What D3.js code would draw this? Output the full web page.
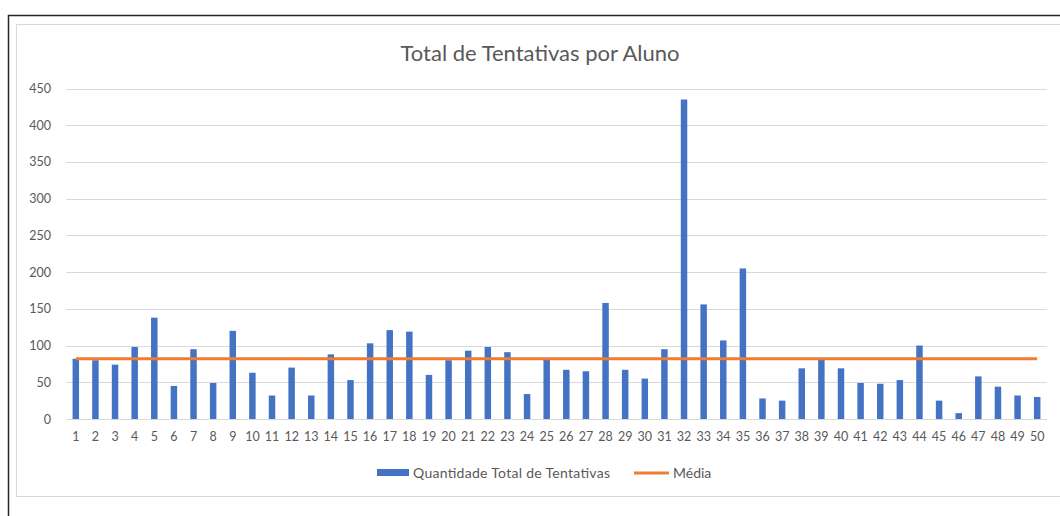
<!DOCTYPE html>
<html>
<head>
<meta charset="utf-8">
<script src="https://cdn.jsdelivr.net/npm/d3@7"></script>
<style>
  body { margin: 0; background: #fff; }
  text { font-family: Lato, "Open Sans", sans-serif; fill: #595959; }
</style>
</head>
<body>
<div id="chart"></div>
<script>
// dados
var alunos = d3.range(1, 51).map(String); // 1..50 rótulos do eixo x
var tentativas = [82, 80, 74, 98, 138, 45, 95, 49, 120, 63,
                  32, 70, 32, 88, 53, 103, 121, 119, 60, 80,
                  93, 98, 91, 34, 81, 67, 65, 158, 67, 55,
                  95, 435, 156, 107, 205, 28, 25, 69, 81, 69,
                  49, 48, 53, 100, 25, 8, 58, 44, 32, 30];
var media = 82;
var yTicks = [0, 50, 100, 150, 200, 250, 300, 350, 400, 450];
var titulo = "Total de Tentativas por Aluno";
var legendas = ["Quantidade Total de Tentativas", "Média"];

const width = 1060;
const height = 516;
const plot_left = 66;
const plot_right = 1047;
const plot_top = 88.5;
const plot_bottom = 419;

var svg = d3.select("#chart")
  .append("svg")
  .attr("width", width)
  .attr("height", height);

// moldura externa (preta) e area do grafico (cinza claro)
svg.append("rect")
  .attr("x", 8.5).attr("y", 15.5)
  .attr("width", 1200).attr("height", 600)
  .style("fill", "none")
  .style("stroke", "#262626")
  .style("stroke-width", 1.5);

svg.append("rect")
  .attr("x", 16.5).attr("y", 24.5)
  .attr("width", 1200).attr("height", 472)
  .style("fill", "#fff")
  .style("stroke", "#d9d9d9")
  .style("stroke-width", 1);

var x = d3.scaleBand()
  .domain(alunos)
  .range([plot_left, plot_right])
  .paddingInner(0.67)
  .paddingOuter(0.335);

var y = d3.scaleLinear()
  .domain([0, 450])
  .range([plot_bottom, plot_top]);

// linhas de grade
svg.append("g")
  .selectAll("line")
  .data(yTicks)
  .join("line")
  .attr("x1", plot_left)
  .attr("x2", plot_right)
  .attr("y1", d => Math.round(y(d)) + 0.5)
  .attr("y2", d => Math.round(y(d)) + 0.5)
  .style("stroke", "#d9d9d9")
  .style("stroke-width", 1);

// eixo y
var yAxis = svg.append("g")
  .attr("transform", "translate(" + (plot_left - 15) + ",0)")
  .call(d3.axisLeft(y).tickValues(yTicks).tickSize(0).tickPadding(0));
yAxis.select(".domain").remove();
yAxis.selectAll("text")
  .style("font-size", "12.5px")
  .style("font-family", "Lato, sans-serif")
  .attr("fill", "#595959");

// eixo x
var xAxis = svg.append("g")
  .attr("transform", "translate(0," + plot_bottom + ")")
  .call(d3.axisBottom(x).tickSize(0).tickPadding(13));
xAxis.select(".domain").remove();
xAxis.selectAll("text")
  .style("font-size", "12.5px")
  .style("font-family", "Lato, sans-serif")
  .attr("fill", "#595959");

// barras
svg.append("g")
  .selectAll("rect")
  .data(tentativas)
  .join("rect")
  .attr("x", (d, i) => x(alunos[i]))
  .attr("y", d => y(d))
  .attr("width", x.bandwidth())
  .attr("height", d => y(0) - y(d))
  .style("fill", "#4472c4");

// linha da media
var linha = d3.line()
  .x(d => x(d) + x.bandwidth() / 2)
  .y(() => y(media));

svg.append("path")
  .datum([alunos[0], alunos[alunos.length - 1]])
  .attr("d", linha)
  .style("fill", "none")
  .style("stroke", "#ed7d31")
  .style("stroke-width", 3);

// titulo
svg.append("text")
  .attr("x", 540)
  .attr("y", 61)
  .attr("text-anchor", "middle")
  .style("font-size", "22px")
  .text(titulo);

// legenda
var leg = svg.append("g").attr("transform", "translate(377,473)");
leg.append("rect")
  .attr("x", 0).attr("y", -4)
  .attr("width", 32).attr("height", 7)
  .style("fill", "#4472c4");
leg.append("text")
  .attr("x", 36).attr("y", 5)
  .attr("textLength", 197)
  .attr("lengthAdjust", "spacing")
  .style("font-size", "14px")
  .text(legendas[0]);
leg.append("line")
  .attr("x1", 257).attr("x2", 292)
  .attr("y1", 0).attr("y2", 0)
  .style("stroke", "#ed7d31")
  .style("stroke-width", 3);
leg.append("text")
  .attr("x", 296).attr("y", 5)
  .style("font-size", "14px")
  .text(legendas[1]);
</script>
</body>
</html>
